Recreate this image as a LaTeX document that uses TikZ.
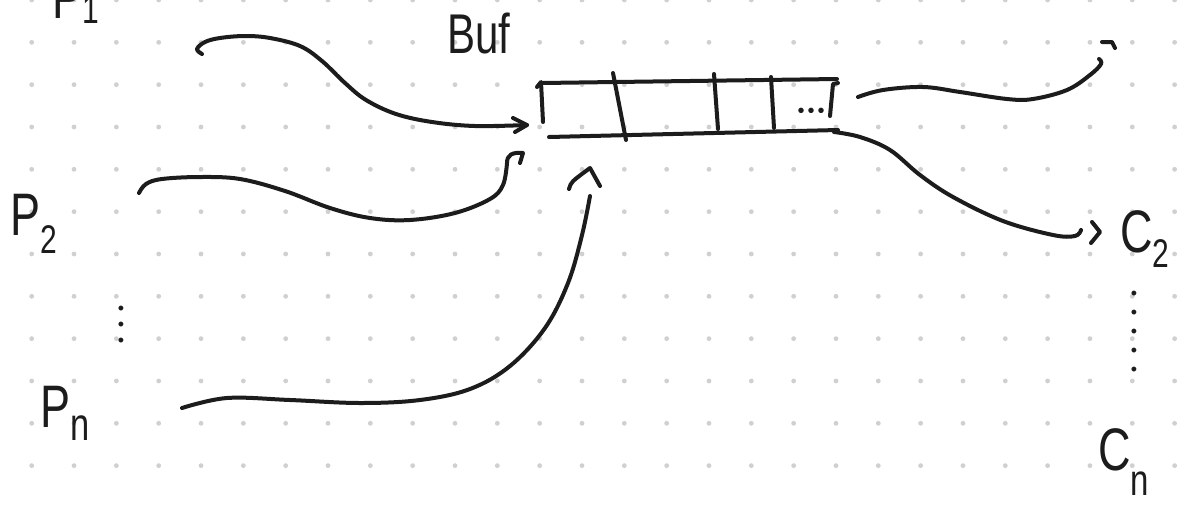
\documentclass[tikz,border=0pt]{standalone}
\usepackage{graphicx}
\usepackage{fontspec}
\setmainfont{Liberation Sans}
\definecolor{dotgray}{RGB}{208,208,208}
\definecolor{ink}{RGB}{28,28,28}
\newcommand{\hwtext}[1]{\scalebox{0.75}[1]{#1}}
\newcommand{\subtxt}[3]{\raisebox{#1}{\fontsize{#2}{#2}\selectfont #3}}
\tikzset{
  stroke/.style={draw=ink, line width=4pt, line cap=round, line join=round},
  lab/.style={inner sep=0pt, text=ink, anchor=base west},
  big/.style={font=\fontsize{60}{60}\selectfont},
  vdotsbox/.style={inner sep=0pt, text=ink, align=center},
}
\begin{document}
\begin{tikzpicture}[x=1pt,y=-1pt]
\useasboundingbox (0,0) rectangle (1194,504);
\fill[white] (0,0) rectangle (1194,504);
% dot grid
\foreach \i in {0,...,27}{\foreach \j in {0,...,11}{
  \fill[dotgray] ({31.7+42.33*\i},{42.33*\j}) circle[radius=2.4pt];}}

% labels
\node[lab, big] (p1) at (52,18) {\hwtext{P\subtxt{-5pt}{40}{1}}};
\node[lab, font=\fontsize{56}{56}\selectfont] (buf) at (447,53) {\hwtext{Buf}};
\node[lab, big] (p2) at (10,235) {\hwtext{P\subtxt{-18pt}{40}{2}}};
\node[lab, big] (pn) at (40,427) {\hwtext{P\subtxt{-13pt}{46}{n}}};
\node[lab, big] (c2) at (1120,252) {\hwtext{C\subtxt{-15pt}{40}{2}}};
\node[lab, big] (cn) at (1098,470) {\hwtext{C\subtxt{-25pt}{44}{n}}};
\node[vdotsbox, font=\fontsize{18}{16}\selectfont] (vl) at (121,326) {•\\•\\•};
\node[vdotsbox, font=\fontsize{18}{19}\selectfont] (vr) at (1134,333) {•\\•\\•\\•\\•};

% buffer
\coordinate (bTL) at (542,83);  \coordinate (bTR) at (837,79);
\coordinate (bBL) at (549,137); \coordinate (bBR) at (838,130);
\draw[stroke] (bTL) -- (bTR);
\draw[stroke] (bBL) -- (bBR);
\draw[stroke] (537,87) -- (541,82) -- (543,122);
\draw[stroke] (613,73) -- (626,140);
\draw[stroke] (714,74) -- (718,129);
\draw[stroke] (771,77) -- (774,128);
\draw[stroke] (838,83) -- (833,84) -- (830,116);
\node[inner sep=0pt, text=ink, font=\fontsize{20}{20}\selectfont] (more) at (811,113) {•\kern3pt•\kern3pt•};

% P1 -> buffer
\coordinate (s1) at (202,54); \coordinate (e1) at (527,125);
\draw[stroke] plot[smooth, tension=0.6] coordinates {(s1) (197,49) (205,42) (220,38) (245,36) (270,38) (300,46) (322,61) (345,83) (366,100) (396,114) (432,122) (475,126) (e1)};
\draw[stroke] (513,118) -- (e1) -- (515,132);

% P2 -> buffer
\coordinate (s2) at (139,193); \coordinate (e2) at (507,163);
\draw[stroke] plot[smooth, tension=0.6] coordinates {(s2) (146,184) (162,179) (200,177) (240,179) (285,191) (330,208) (370,218) (410,220) (455,213) (490,199) (503,185) (e2)};
\draw[stroke] (e2) .. controls (507,155) and (512,152) .. (523,153) -- (520,163);

% Pn -> buffer
\coordinate (s3) at (182,408); \coordinate (e3) at (590,196); \coordinate (h3) at (590,168);
\draw[stroke] plot[smooth, tension=0.6] coordinates {(s3) (227,398) (290,400) (360,403) (420,400) (470,389) (510,366) (545,328) (568,283) (582,235) (e3)};
\draw[stroke] (569,189) .. controls (571,182) .. (h3) -- (600,186);

% buffer -> C1 (off page)
\coordinate (s4) at (858,97); \coordinate (e4) at (1099,59);
\draw[stroke] plot[smooth, tension=0.6] coordinates {(s4) (883,90) (923,87) (960,92) (1007,99) (1033,99) (1067,90) (1090,75) (1101,64) (e4)};
\draw[stroke] (1102,42) -- (1112,42) -- (1115,48);

% buffer -> C2
\coordinate (s5) at (834,132); \coordinate (e5) at (1081,230); \coordinate (h5) at (1100,232);
\draw[stroke] plot[smooth, tension=0.6] coordinates {(s5) (860,137) (890,150) (920,175) (953,197) (1003,221) (1053,235) (1075,236) (e5)};
\draw[stroke] (1092,222) -- (h5) -- (1091,243);
\end{tikzpicture}
\end{document}
